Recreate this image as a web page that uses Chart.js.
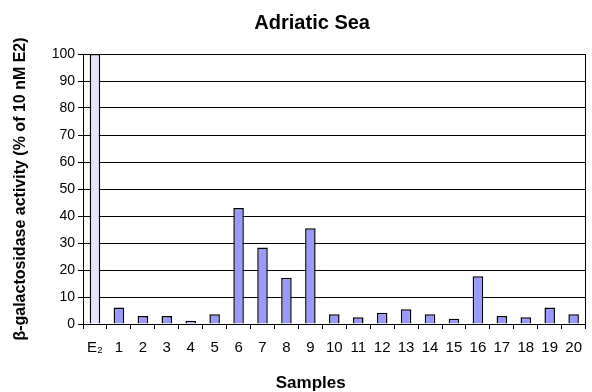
<!DOCTYPE html>
<html>
<head>
<meta charset="utf-8">
<script src="https://cdn.jsdelivr.net/npm/chart.js@4"></script>
<style>
  html, body { margin: 0; padding: 0; background: #fff; }
  #wrap { width: 592px; height: 392px; }
</style>
</head>
<body>
<div id="wrap"><canvas id="chart" width="592" height="392"></canvas></div>
<script>
// categories and values
const samples = ['E\u2082', '1', '2', '3', '4', '5', '6', '7', '8', '9', '10',
  '11', '12', '13', '14', '15', '16', '17', '18', '19', '20'];
const activity = [100, 6.1, 3.0, 3.0, 1.2, 3.6, 43, 28.3, 17.1, 35.5, 3.6,
  2.5, 4.2, 5.5, 3.6, 1.9, 17.7, 3.0, 2.5, 6.1, 3.6];
const yTicks = [0, 10, 20, 30, 40, 50, 60, 70, 80, 90, 100];

const barColors = activity.map((v, i) => i === 0 ? '#e4e4fb' : '#9999ff');

// non-breaking spaces nudge the centred titles like in the original
const pad = n => '\u00a0'.repeat(n);

// right border of the plot area
const frameRight = {
  id: 'frameRight',
  afterDraw(chart) {
    const a = chart.chartArea;
    const ctx = chart.ctx;
    ctx.save();
    ctx.strokeStyle = '#000';
    ctx.lineWidth = 1;
    ctx.beginPath();
    ctx.moveTo(Math.round(a.right) - 0.5, a.top);
    ctx.lineTo(Math.round(a.right) - 0.5, a.bottom);
    ctx.stroke();
    ctx.restore();
  }
};

Chart.defaults.font.family = '"Liberation Sans", Arial, sans-serif';
Chart.defaults.color = '#000';

new Chart(document.getElementById('chart').getContext('2d'), {
  type: 'bar',
  data: {
    labels: samples,
    datasets: [{
      data: activity,
      backgroundColor: barColors,
      borderColor: '#000',
      borderWidth: 1.5,
      borderSkipped: 'bottom',
      barPercentage: 0.44,
      categoryPercentage: 1
    }]
  },
  options: {
    responsive: false,
    animation: false,
    layout: { padding: { left: 0, right: 1, top: 0, bottom: 0 } },
    plugins: {
      legend: { display: false },
      tooltip: { enabled: false },
      title: {
        display: true,
        text: pad(6) + 'Adriatic Sea',
        font: { size: 20, weight: 'bold' },
        padding: { top: 11, bottom: 19 },
        color: '#000'
      }
    },
    scales: {
      x: {
        afterFit: s => { s.height = 68; },
        grid: {
          offset: true,
          drawOnChartArea: false,
          drawTicks: true,
          tickLength: 5,
          color: '#000'
        },
        border: { color: '#000', width: 1 },
        ticks: { font: { size: 15 }, padding: 10, maxRotation: 0, autoSkip: false },
        title: {
          display: true,
          text: 'Samples' + pad(10),
          font: { size: 17, weight: 'bold' },
          padding: { top: 0, bottom: -2 }
        }
      },
      y: {
        min: 0,
        max: 100,
        afterFit: s => { s.width = 83; },
        afterBuildTicks: s => { s.ticks = yTicks.map(v => ({ value: v })); },
        grid: { color: '#000', tickLength: 5, lineWidth: 1 },
        border: { color: '#000', width: 1 },
        ticks: { font: { size: 14 }, padding: 3 },
        title: {
          display: true,
          text: '\u03b2-galactosidase activity (% of 10 nM E2)',
          font: { size: 16, weight: 'bold' },
          padding: { top: 11, bottom: 0 }
        }
      }
    }
  },
  plugins: [frameRight]
});
</script>
</body>
</html>
